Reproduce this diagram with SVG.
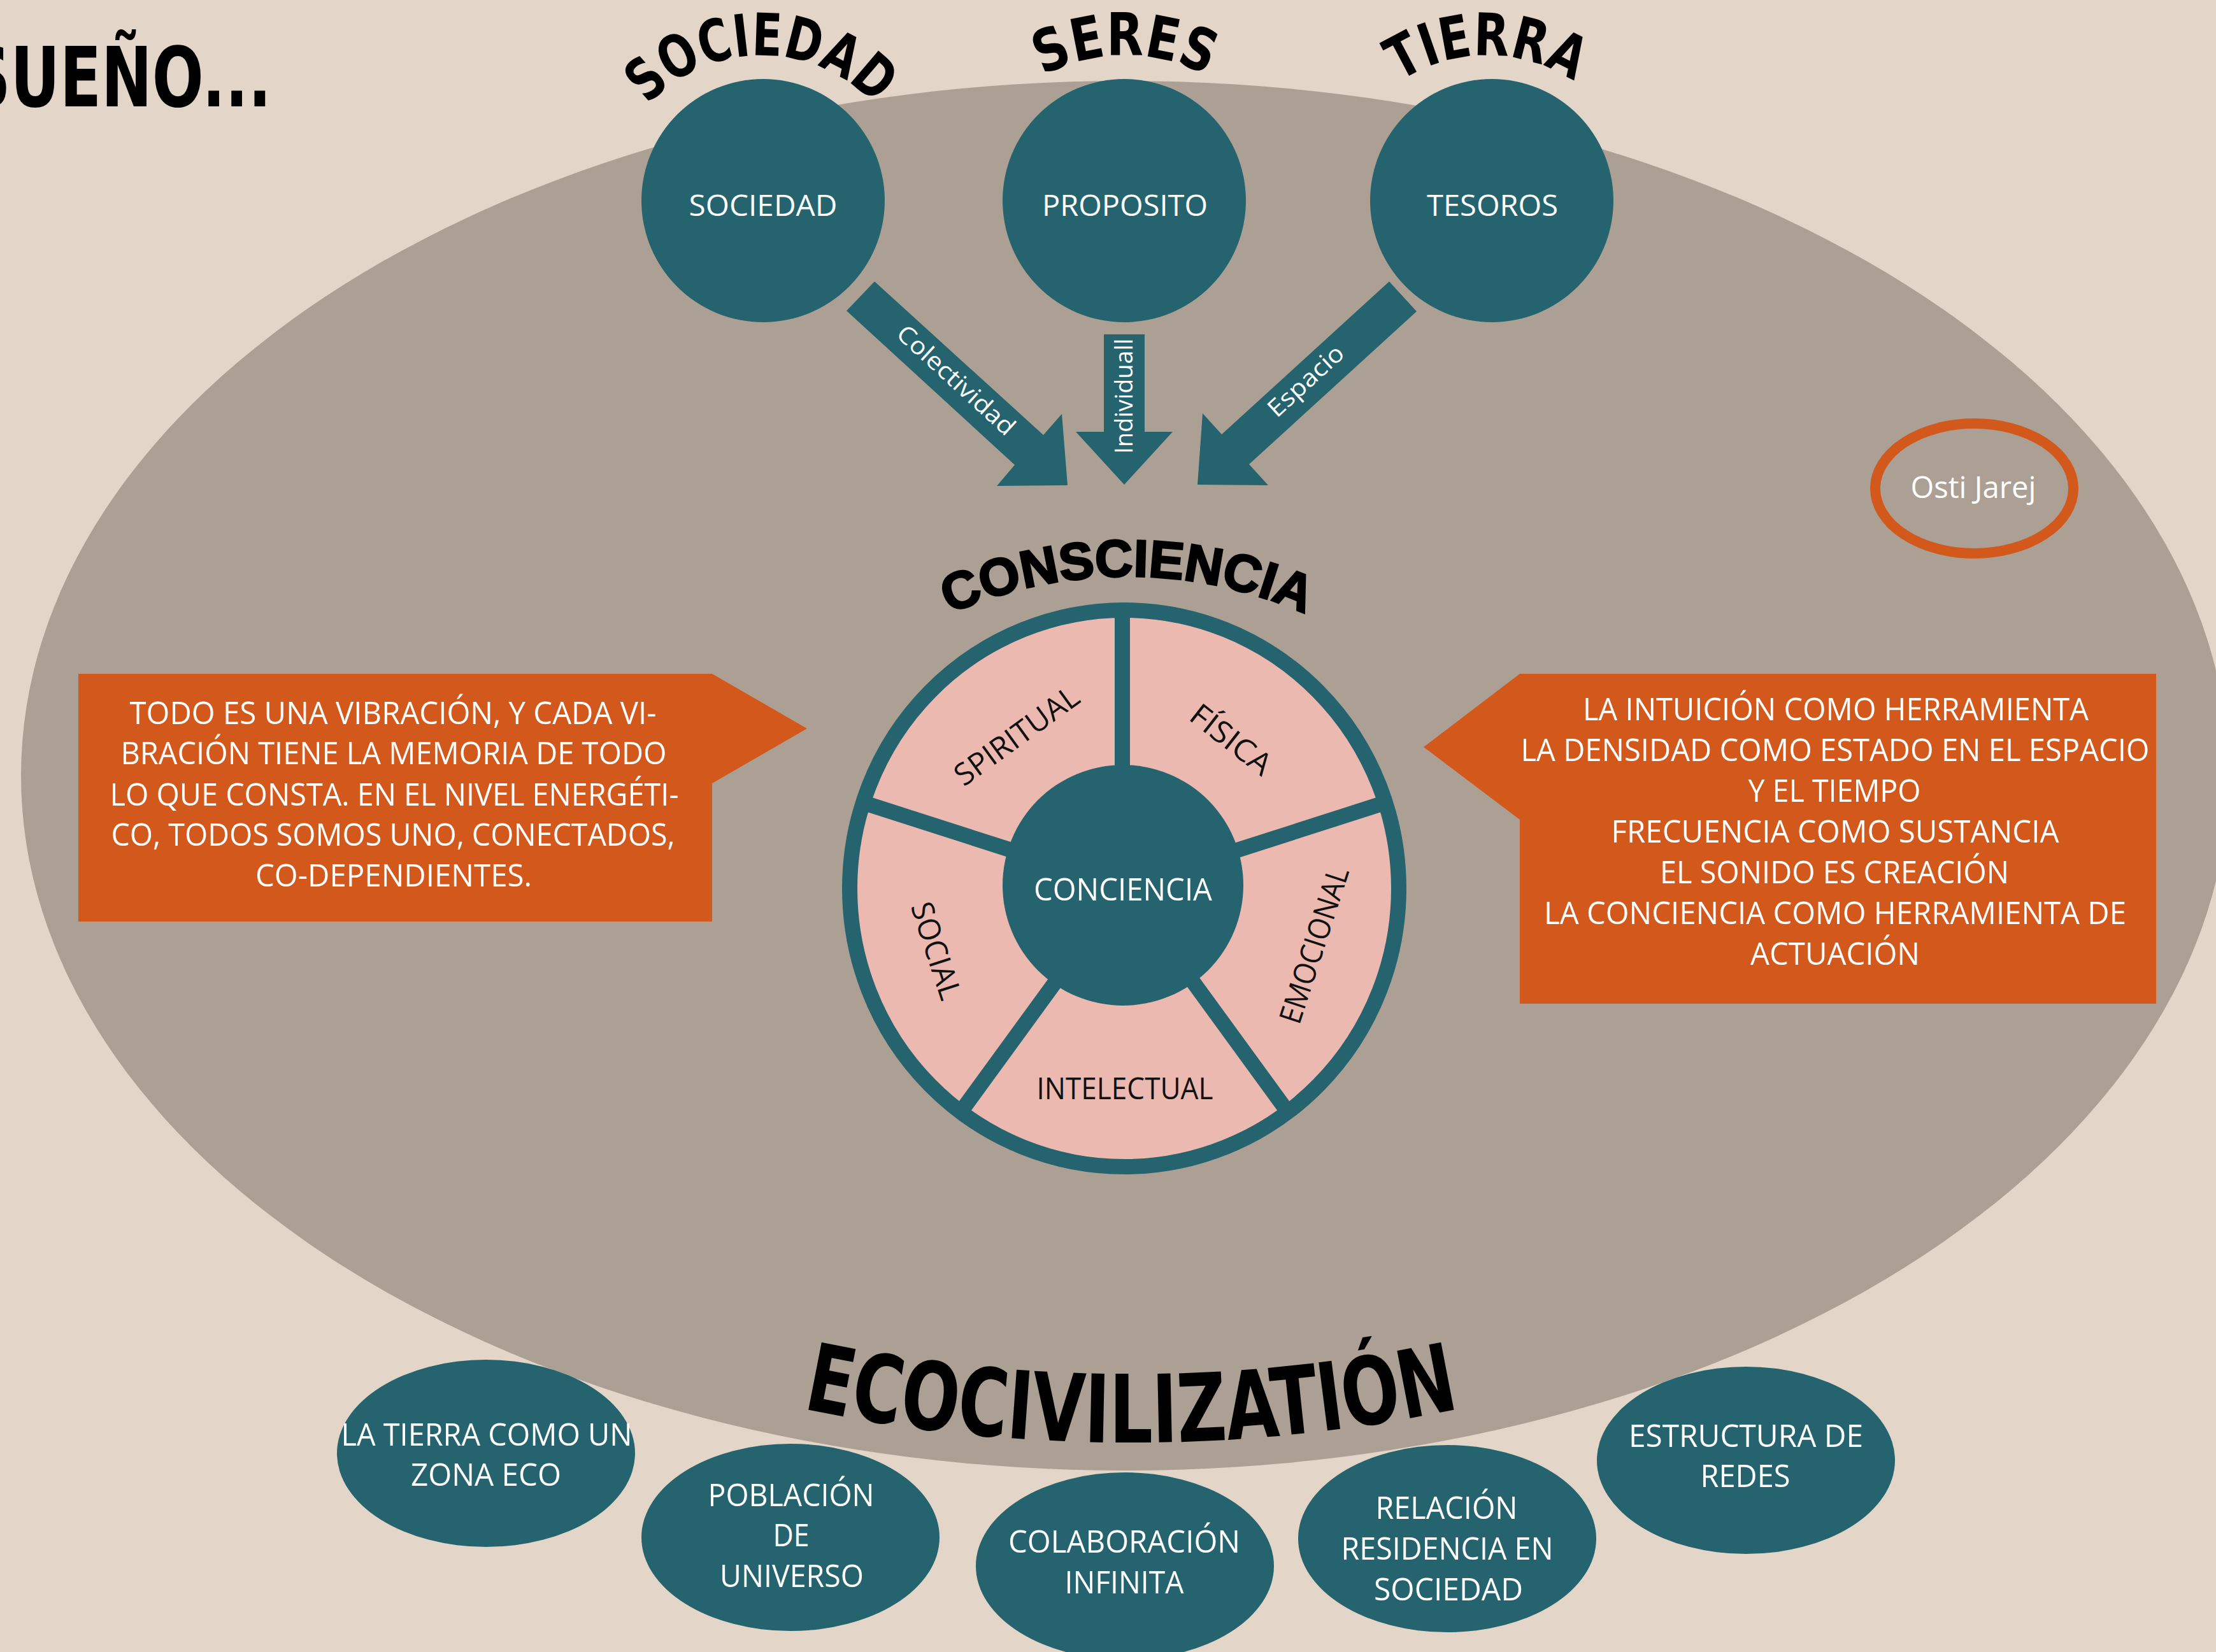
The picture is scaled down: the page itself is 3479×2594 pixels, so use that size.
<svg xmlns="http://www.w3.org/2000/svg" width="3479" height="2594" viewBox="0 0 3479 2594">
<style>
.teal{fill:#25646F}
.orange{fill:#D3581C}
.wt{fill:#FFFFFF;font-family:"Open Sans","Noto Sans",sans-serif;text-anchor:middle}
.bk{fill:#111111;font-family:"Open Sans","Noto Sans",sans-serif;text-anchor:middle}
.title{fill:#000000;font-family:"DejaVu Sans Condensed","DejaVu Sans",sans-serif;font-weight:bold;font-stretch:condensed}
.box{font-size:50px}
.eco{font-size:50px}
.seg{font-size:48px}
</style>
<defs>
<path id="p-soc" d="M 952,330 A 243,243 0 0 1 1438,330"/>
<path id="p-ser" d="M 1487,366 A 279,279 0 0 1 2045,366"/>
<path id="p-tie" d="M 2086,335 A 248,248 0 0 1 2582,335"/>
<path id="p-con" d="M 1080,1595 A 690,690 0 0 1 2460,1595"/>
<path id="p-eco" d="M 1000,2142 A 2505,2505 0 0 0 2552,2142"/>
</defs>
<rect width="3479" height="2594" fill="#E3D5C8"/>
<ellipse id="world" cx="1766" cy="1218" rx="1733" ry="1091" fill="#ACA094"/>

<text class="title" x="-52" y="167" font-size="130" textLength="478" lengthAdjust="spacingAndGlyphs">SUEÑO...</text>

<g id="sociedad">
<circle class="teal" cx="1198" cy="315" r="191"/>
<text class="wt" x="1198" y="339" font-size="46" textLength="233" lengthAdjust="spacingAndGlyphs">SOCIEDAD</text>
<text class="title" font-size="92"><textPath href="#p-soc" startOffset="50%" text-anchor="middle" textLength="400" lengthAdjust="spacingAndGlyphs">SOCIEDAD</textPath></text>
</g>
<g id="seres">
<circle class="teal" cx="1765" cy="315" r="191"/>
<text class="wt" x="1766" y="339" font-size="46" textLength="260" lengthAdjust="spacingAndGlyphs">PROPOSITO</text>
<text class="title" font-size="92"><textPath href="#p-ser" startOffset="50%" text-anchor="middle" textLength="268" lengthAdjust="spacingAndGlyphs">SERES</textPath></text>
</g>
<g id="tierra">
<circle class="teal" cx="2342" cy="315" r="191"/>
<text class="wt" x="2343" y="339" font-size="46" textLength="206" lengthAdjust="spacingAndGlyphs">TESOROS</text>
<text class="title" font-size="92"><textPath href="#p-tie" startOffset="50%" text-anchor="middle" textLength="290" lengthAdjust="spacingAndGlyphs">TIERRA</textPath></text>
</g>

<g id="connectors">
<polygon class="teal" points="1373,442 1638,683 1667,650 1676,762 1565,763 1593,730 1329,488"/>
<polygon class="teal" points="1733,525 1797,525 1797,678 1841,678 1765,761 1689,678 1733,678"/>
<polygon class="teal" points="2181,442 1918,682 1888,649 1880,761 1991,762 1961,729 2224,489"/>
<text class="wt" font-size="38" transform="translate(1501,597) rotate(42.4)" x="0" y="13" textLength="236" lengthAdjust="spacingAndGlyphs">Colectividad</text>
<text class="wt" font-size="38" transform="translate(1765,622) rotate(-90)" x="0" y="13" textLength="181" lengthAdjust="spacingAndGlyphs">Individuall</text>
<text class="wt" font-size="38" transform="translate(2050,598) rotate(-42.4)" x="0" y="13" textLength="147" lengthAdjust="spacingAndGlyphs">Espacio</text>
</g>

<g id="osti">
<ellipse cx="3099.5" cy="767" rx="155.5" ry="102" fill="none" stroke="#D3581C" stroke-width="16"/>
<text class="wt" x="3098" y="782" font-size="48" textLength="197" lengthAdjust="spacingAndGlyphs">Osti Jarej</text>
</g>

<g id="consciencia">
<ellipse cx="1765" cy="1395" rx="431" ry="437" fill="#EBB9AF"/>
<g stroke="#25646F" stroke-width="24">
<line x1="1762" y1="1220" x2="1762" y2="958"/>
<line x1="1936" y1="1337" x2="2179" y2="1259"/>
<line x1="1871" y1="1539" x2="2021" y2="1745"/>
<line x1="1659" y1="1539" x2="1509" y2="1745"/>
<line x1="1594" y1="1337" x2="1351" y2="1259"/>
</g>
<ellipse cx="1765" cy="1395" rx="431" ry="437" fill="none" stroke="#25646F" stroke-width="24"/>
<circle class="teal" cx="1763" cy="1390" r="189"/>
<text class="wt" x="1763" y="1414" font-size="50" textLength="280" lengthAdjust="spacingAndGlyphs">CONCIENCIA</text>
<text class="bk seg" transform="translate(1596,1155) rotate(-36)" x="0" y="17" textLength="229" lengthAdjust="spacingAndGlyphs">SPIRITUAL</text>
<text class="bk seg" transform="translate(1933,1161) rotate(38)" x="0" y="17" textLength="148" lengthAdjust="spacingAndGlyphs">FÍSICA</text>
<text class="bk seg" transform="translate(2063,1484) rotate(-72)" x="0" y="17" textLength="255" lengthAdjust="spacingAndGlyphs">EMOCIONAL</text>
<text class="bk seg" transform="translate(1470,1493) rotate(72)" x="0" y="17" textLength="158" lengthAdjust="spacingAndGlyphs">SOCIAL</text>
<text class="bk seg" x="1766" y="1726" textLength="277" lengthAdjust="spacingAndGlyphs">INTELECTUAL</text>
<text font-family="'Liberation Sans',Arial,sans-serif" font-weight="bold" font-size="82" fill="#000" stroke="#000" stroke-width="3"><textPath href="#p-con" startOffset="50%" text-anchor="middle" textLength="575" lengthAdjust="spacingAndGlyphs">CONSCIENCIA</textPath></text>
</g>

<g id="vibracion">
<polygon class="orange" points="123,1058 1118,1058 1267,1144 1118,1230 1118,1447 123,1447"/>
<text class="wt box" x="617" y="1137" textLength="827" lengthAdjust="spacingAndGlyphs">TODO ES UNA VIBRACIÓN, Y CADA VI-</text>
<text class="wt box" x="618" y="1200" textLength="857" lengthAdjust="spacingAndGlyphs">BRACIÓN TIENE LA MEMORIA DE TODO</text>
<text class="wt box" x="619" y="1265" textLength="893" lengthAdjust="spacingAndGlyphs">LO QUE CONSTA. EN EL NIVEL ENERGÉTI-</text>
<text class="wt box" x="617" y="1328" textLength="885" lengthAdjust="spacingAndGlyphs">CO, TODOS SOMOS UNO, CONECTADOS,</text>
<text class="wt box" x="618" y="1392" textLength="434" lengthAdjust="spacingAndGlyphs">CO-DEPENDIENTES.</text>
</g>

<g id="intuicion">
<polygon class="orange" points="2386,1058 3385,1058 3385,1576 2386,1576 2386,1287 2235,1173"/>
<text class="wt box" x="2882" y="1131" textLength="794" lengthAdjust="spacingAndGlyphs">LA INTUICIÓN COMO HERRAMIENTA</text>
<text class="wt box" x="2881" y="1195" textLength="987" lengthAdjust="spacingAndGlyphs">LA DENSIDAD COMO ESTADO EN EL ESPACIO</text>
<text class="wt box" x="2880" y="1259" textLength="271" lengthAdjust="spacingAndGlyphs">Y EL TIEMPO</text>
<text class="wt box" x="2881" y="1323" textLength="703" lengthAdjust="spacingAndGlyphs">FRECUENCIA COMO SUSTANCIA</text>
<text class="wt box" x="2880" y="1387" textLength="548" lengthAdjust="spacingAndGlyphs">EL SONIDO ES CREACIÓN</text>
<text class="wt box" x="2881" y="1451" textLength="914" lengthAdjust="spacingAndGlyphs">LA CONCIENCIA COMO HERRAMIENTA DE</text>
<text class="wt box" x="2881" y="1515" textLength="266" lengthAdjust="spacingAndGlyphs">ACTUACIÓN</text>
</g>

<g id="eco1">
<ellipse class="teal" cx="763" cy="2282" rx="234" ry="147"/>
<text class="wt eco" x="764" y="2270" textLength="457" lengthAdjust="spacingAndGlyphs">LA TIERRA COMO UN</text>
<text class="wt eco" x="763" y="2333" textLength="236" lengthAdjust="spacingAndGlyphs">ZONA ECO</text>
</g>
<g id="eco2">
<ellipse class="teal" cx="1241" cy="2414" rx="234" ry="147"/>
<text class="wt eco" x="1242" y="2365" textLength="261" lengthAdjust="spacingAndGlyphs">POBLACIÓN</text>
<text class="wt eco" x="1242" y="2428" textLength="57" lengthAdjust="spacingAndGlyphs">DE</text>
<text class="wt eco" x="1243" y="2492" textLength="226" lengthAdjust="spacingAndGlyphs">UNIVERSO</text>
</g>
<g id="eco3">
<ellipse class="teal" cx="1766" cy="2459" rx="234" ry="147"/>
<text class="wt eco" x="1765" y="2438" textLength="364" lengthAdjust="spacingAndGlyphs">COLABORACIÓN</text>
<text class="wt eco" x="1765" y="2502" textLength="187" lengthAdjust="spacingAndGlyphs">INFINITA</text>
</g>
<g id="eco4">
<ellipse class="teal" cx="2272" cy="2416" rx="234" ry="147"/>
<text class="wt eco" x="2271" y="2385" textLength="223" lengthAdjust="spacingAndGlyphs">RELACIÓN</text>
<text class="wt eco" x="2272" y="2449" textLength="333" lengthAdjust="spacingAndGlyphs">RESIDENCIA EN</text>
<text class="wt eco" x="2274" y="2513" textLength="234" lengthAdjust="spacingAndGlyphs">SOCIEDAD</text>
</g>
<g id="eco5">
<ellipse class="teal" cx="2741" cy="2293" rx="234" ry="147"/>
<text class="wt eco" x="2741" y="2272" textLength="368" lengthAdjust="spacingAndGlyphs">ESTRUCTURA DE</text>
<text class="wt eco" x="2740" y="2335" textLength="141" lengthAdjust="spacingAndGlyphs">REDES</text>
</g>

<text class="title" font-size="148"><textPath href="#p-eco" startOffset="50%" text-anchor="middle" textLength="1040" lengthAdjust="spacingAndGlyphs">ECOCIVILIZATIÓN</textPath></text>
</svg>
